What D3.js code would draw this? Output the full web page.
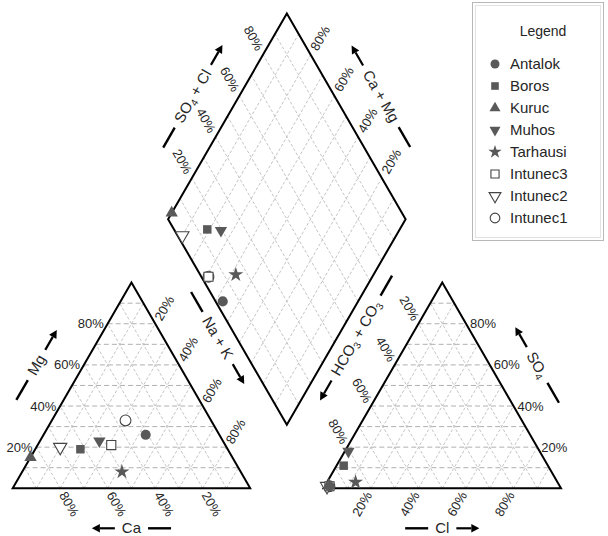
<!DOCTYPE html>
<html><head><meta charset="utf-8">
<script src="https://cdn.jsdelivr.net/npm/d3@7"></script>
<style>body{margin:0;background:#fff}text{font-family:"Liberation Sans",Arial,sans-serif;fill:#262626}</style>
</head><body><svg id="c" width="608" height="536"></svg>
<script>
// ---- data (percent of meq) ----
const samples = ["Antalok","Boros","Kuruc","Muhos","Tarhausi","Intunec3","Intunec2","Intunec1"];
const ca   = [31, 62, 85, 52, 50, 48, 70, 36];
const mg   = [26, 19, 15, 23,  8, 21, 20, 33];
const naK  = [43, 19,  0, 25, 42, 31, 10, 31];
const hco3 = [97, 86, 97, 80.5, 85, 97, 98, 97];
const so4  = [ 1, 11, 1.5, 18,  3,  1,  1,  1];
const cl   = [ 2,  3, 1.5, 1.5, 12,  2,  1,  2];
const tickValues = [20, 40, 60, 80];
const tickLabels = ["20%", "40%", "60%", "80%"];
const markerShapes = ["circle","square","triangle","triangleDown","star","square","triangleDown","circle"];
const markerFilled = [true, true, true, true, true, false, false, false];

// ---- layout ----
const svg = d3.select("#c");
const L = 237.5, H = L * Math.sqrt(3) / 2, S3 = Math.sqrt(3);
const gap = 73.3;
const ox1 = 12.7, oy = 488.3, ox2 = ox1 + L + gap;
const s = d3.scaleLinear().domain([0, 100]).range([0, L]);
const h = d3.scaleLinear().domain([0, 100]).range([0, H]);
const Bx = ox1 + L + gap / 2, By = oy - gap / 2 * S3;

// ternary point: right-corner component r, top component t
const tri = (ox, r, t) => [ox + s(r) + s(t) / 2, oy - h(t)];
// diamond point: a = Ca+Mg, c = SO4+Cl
const dia = (a, c) => [Bx + (s(c) - s(a)) / 2, By - (h(a) + h(c))];

const gridG = svg.append("g");
const grid = d3.range(10, 100, 10);
function seg(p, q, cls) {
  const l = gridG.append("line").attr("x1", p[0]).attr("y1", p[1]).attr("x2", q[0]).attr("y2", q[1]);
  if (cls === "h") l.attr("stroke", "#b0b0b0").attr("stroke-width", 1).attr("stroke-dasharray", "5,3");
  else l.attr("stroke", "#bdbdbd").attr("stroke-width", 0.9).attr("stroke-dasharray", "3,2");
}
[ox1, ox2].forEach(ox => {
  grid.forEach(v => {
    seg(tri(ox, 0, v), tri(ox, 100 - v, v), "h");
    seg(tri(ox, v, 0), tri(ox, 0, v), "o");
    seg(tri(ox, v, 0), tri(ox, 0, 100 - v).map((d, i) => i === 0 ? ox + (L + s(v)) / 2 : d), "o");
  });
});
grid.forEach(v => {
  seg(dia(v, 0), dia(v, 100), "o");
  seg(dia(0, v), dia(100, v), "o");
});

// outlines
const line = d3.line();
const edgeG = svg.append("g").attr("fill", "none").attr("stroke", "#000").attr("stroke-width", 2).attr("stroke-linejoin", "miter");
[ox1, ox2].forEach(ox => edgeG.append("path").attr("d", line([tri(ox, 0, 0), tri(ox, 100, 0), tri(ox, 0, 100)]) + "Z"));
edgeG.append("path").attr("d", line([dia(0, 0), dia(100, 0), dia(100, 100), dia(0, 100)]) + "Z");

// tick labels
const tickG = svg.append("g").attr("font-size", 13);
function tick(p, angle, anchor, off, label) {
  const g = tickG.append("g").attr("transform", `translate(${p[0]},${p[1]}) rotate(${angle})`);
  g.append("text").attr("x", off).attr("dy", "0.35em").attr("text-anchor", anchor).text(label);
}
tickValues.forEach((v, i) => {
  const lab = tickLabels[i];
  // cation triangle
  tick(tri(ox1, 0, v), 0, "end", -4, lab);            // Mg (left edge)
  tick([ox1 + s(100 - v), oy], 60, "start", 5, lab);  // Ca (bottom)
  tick(tri(ox1, v, 100 - v), -60, "start", 5, lab);   // Na+K (right edge)
  // anion triangle
  tick(tri(ox2, 0, 100 - v), 60, "end", -5, lab);     // HCO3+CO3 (left edge)
  tick([ox2 + s(v), oy], -60, "end", -5, lab);        // Cl (bottom)
  tick(tri(ox2, 100 - v, v), 0, "start", 4, lab);     // SO4 (right edge)
  // diamond
  tick(dia(100, v), 60, "end", -6, lab);              // SO4+Cl
  tick(dia(v, 100), -60, "start", 6, lab);            // Ca+Mg
});

// axis titles
const titleG = svg.append("g").attr("font-size", 15);
function piece(g, xa, xb, kind) {
  if (kind === "dash") {
    g.append("line").attr("x1", xa).attr("x2", xb).attr("y1", 0).attr("y2", 0).attr("stroke", "#000").attr("stroke-width", 2.4);
  } else {
    const dir = kind === "arrowR" ? 1 : -1;
    const tip = dir > 0 ? xb : xa, base = tip - dir * 8;
    g.append("line").attr("x1", dir > 0 ? xa : base).attr("x2", dir > 0 ? base : xb).attr("y1", 0).attr("y2", 0).attr("stroke", "#000").attr("stroke-width", 2.2);
    g.append("path").attr("d", `M${tip},0L${base},-4.2L${base},4.2Z`).attr("fill", "#000");
  }
}
function axisTitle(p, angle, parts, startKind, endKind) {
  const g = titleG.append("g").attr("transform", `translate(${p[0]},${p[1]}) rotate(${angle})`);
  const t = g.append("text").attr("text-anchor", "middle").attr("y", 5);
  parts.forEach(part => {
    if (part.sub) t.append("tspan").attr("font-size", 10).attr("dy", 3).text(part.sub);
    else t.append("tspan").attr("dy", part.after ? -3 : 0).text(part.text);
  });
  const tw = t.node().getComputedTextLength();
  const gp = 7, len = 23;
  piece(g, -(tw / 2 + gp + len), -(tw / 2 + gp), startKind);
  piece(g, tw / 2 + gp, tw / 2 + gp + len, endKind);
}
const nL = [-S3 / 2, -0.5], nR = [S3 / 2, -0.5];
const offP = (a, b, n, d) => [(a[0] + b[0]) / 2 + n[0] * d, (a[1] + b[1]) / 2 + n[1] * d];
axisTitle(offP(tri(ox1, 0, 0), tri(ox1, 0, 100), nL, 41), -60, [{text: "Mg"}], "dash", "arrowR");
axisTitle([ox1 + L / 2, oy + 40], 0, [{text: "Ca"}], "arrowL", "dash");
axisTitle([Bx - 69.2, 338], 60, [{text: "Na + K"}], "dash", "arrowR");
axisTitle([Bx + 69.2, 338], -60, [{text: "HCO"}, {sub: "3"}, {text: " + CO", after: true}, {sub: "3"}], "arrowL", "dash");
axisTitle(offP(tri(ox2, 100, 0), tri(ox2, 0, 100), nR, 41), 60, [{text: "SO"}, {sub: "4"}], "arrowL", "dash");
axisTitle([ox2 + L / 2, oy + 40], 0, [{text: "Cl"}], "dash", "arrowR");
axisTitle(offP(dia(100, 0), dia(100, 100), nL, 40), -60, [{text: "SO"}, {sub: "4"}, {text: " + Cl", after: true}], "dash", "arrowR");
axisTitle(offP(dia(100, 100), dia(0, 100), nR, 40), 60, [{text: "Ca + Mg"}], "arrowL", "dash");

// markers
const markColor = "#595959";
function symPath(shape, size) {
  const map = {circle: d3.symbolCircle, square: d3.symbolSquare, triangle: d3.symbolTriangle, triangleDown: d3.symbolTriangle, star: d3.symbolStar};
  return d3.symbol().type(map[shape]).size(size)();
}
const sizeOf = {circle: 80, square: 72, triangle: 66, triangleDown: 66, star: 70};
function drawMark(g, x, y, i, scale) {
  const shape = markerShapes[i];
  const filled = markerFilled[i];
  const sz = sizeOf[shape] * (filled ? 1 : 1.15) * scale;
  g.append("path").attr("d", symPath(shape, sz))
    .attr("transform", `translate(${x},${y})${shape === "triangleDown" ? " rotate(180)" : ""}`)
    .attr("fill", filled ? markColor : "#fff")
    .attr("stroke", filled ? "none" : "#444").attr("stroke-width", 1.1);
}
const markG = svg.append("g");
const order = [7, 6, 5, 4, 3, 2, 1, 0];
order.forEach(i => {
  const pc = tri(ox1, naK[i], mg[i]);
  const pa = tri(ox2, cl[i], so4[i]);
  const pd = dia(100 - naK[i], so4[i] + cl[i]);
  [pc, pa, pd].forEach(p => drawMark(markG, p[0], p[1], i, 1));
});

// legend
const lg = svg.append("g");
lg.append("rect").attr("x", 472.5).attr("y", 2.5).attr("width", 131).attr("height", 238).attr("fill", "#fff").attr("stroke", "#b8b8b8");
lg.append("rect").attr("x", 475.5).attr("y", 5.5).attr("width", 125).attr("height", 232).attr("fill", "none").attr("stroke", "#e2e2e2");
lg.append("text").attr("x", 543).attr("y", 36).attr("text-anchor", "middle").attr("font-size", 14).text("Legend");
samples.forEach((name, i) => {
  const y = 64 + i * 22;
  drawMark(lg, 495, y, i, 0.8);
  lg.append("text").attr("x", 510).attr("y", y + 5).attr("font-size", 15).text(name);
});
</script></body></html>
